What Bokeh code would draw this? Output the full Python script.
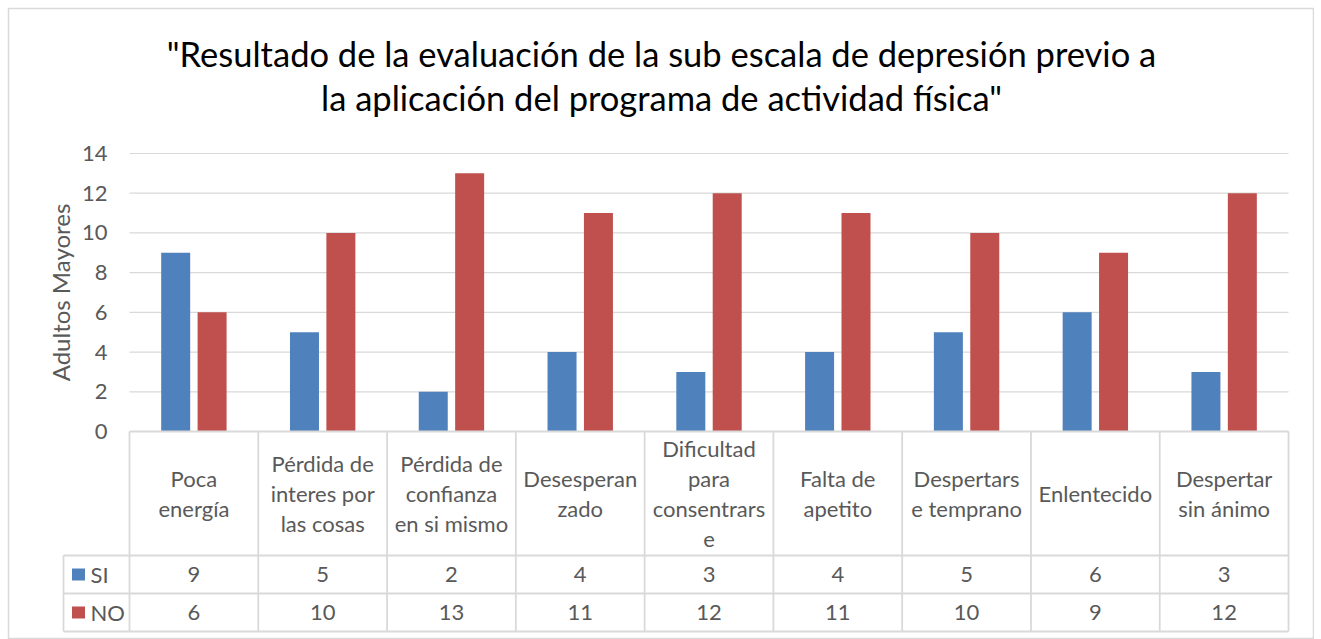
from math import pi
from bokeh.plotting import figure
from bokeh.models import Range1d
from bokeh.transform import dodge
from bokeh.core.properties import value
from bokeh.embed import file_html
from bokeh.resources import INLINE

# ---------------- data ----------------
categories = [
    "Poca\nenergía",
    "Pérdida de\ninteres por\nlas cosas",
    "Pérdida de\nconfianza\nen si mismo",
    "Desesperan\nzado",
    "Dificultad\npara\nconsentrars\ne",
    "Falta de\napetito",
    "Despertars\ne temprano",
    "Enlentecido",
    "Despertar\nsin ánimo",
]
si_values = [9, 5, 2, 4, 3, 4, 5, 6, 3]
no_values = [6, 10, 13, 11, 12, 11, 10, 9, 12]
series_names = ["SI", "NO"]
series_colors = ["#4F81BD", "#C0504D"]
y_ticks = [0, 2, 4, 6, 8, 10, 12, 14]
title_lines = ['"Resultado de la evaluación de la sub escala de depresión previo a',
               'la aplicación del programa de actividad física"']
y_label = "Adultos Mayores"

# ---------------- geometry ----------------
M = 8                  # outer white margin around the chart box
W, H = 1306, 631       # chart box (frame) size
px_x = 128.78          # pixels per category
left_px = 121          # pixel offset of category 0 from frame left
px_y = 278.0 / 14.0    # pixels per y unit
zero_px = 423          # pixel offset of y=0 from frame top
xs = -left_px / px_x
xe = xs + W / px_x
yt = zero_px / px_y
yb = -(H - zero_px) / px_y

n = len(categories)
hdr_bot = -124 / px_y
row1_bot = -162 / px_y
row2_bot = -200 / px_y
lab_left = -66 / px_x

FONT = value("Lato")
GRAY = "#595959"
LINE = "#d9d9d9"

p = figure(width=W + M, height=H + M, x_range=Range1d(xs, xe), y_range=Range1d(yb, yt),
           output_backend="svg", toolbar_location=None,
           min_border_left=M, min_border_top=M, min_border_right=0, min_border_bottom=0,
           x_axis_location=None, y_axis_location=None)
p.grid.visible = False
p.outline_line_color = LINE
p.outline_line_width = 1.5
p.background_fill_color = "white"
p.border_fill_color = "white"

# gridlines
gy = y_ticks[1:]
p.segment(x0=[0] * len(gy), x1=[n] * len(gy), y0=gy, y1=gy, line_color=LINE, line_width=1.2)

# y tick labels
p.text(x=[-22 / px_x] * len(y_ticks), y=y_ticks, text=[str(t) for t in y_ticks],
       text_align="right", text_baseline="middle", text_font=FONT,
       text_font_size="22px", text_color=GRAY)

# y axis label
p.text(x=[-69 / px_x], y=[(y_ticks[0] + y_ticks[-1]) / 2], text=[y_label], angle=pi / 2,
       text_align="center", text_baseline="middle", text_font=FONT,
       text_font_size="24px", text_color=GRAY)

# bars
xc = [i + 0.5 for i in range(n)]
src = dict(x=xc, si=si_values, no=no_values)
bw = 29 / px_x
off = 18.2 / px_x
p.vbar(x=dodge("x", -off), top="si", bottom=0, width=bw, source=src,
       fill_color=series_colors[0], line_color=None)
p.vbar(x=dodge("x", off), top="no", bottom=0, width=bw, source=src,
       fill_color=series_colors[1], line_color=None)

# table lines
hy = [0, hdr_bot, row1_bot, row2_bot]
hx0 = [0, lab_left, lab_left, lab_left]
p.segment(x0=hx0, x1=[n] * 4, y0=hy, y1=hy, line_color=LINE, line_width=1.8)
vx = list(range(n + 1))
p.segment(x0=vx, x1=vx, y0=[0] * len(vx), y1=[row2_bot] * len(vx), line_color=LINE, line_width=1.8)
p.segment(x0=[lab_left], x1=[lab_left], y0=[hdr_bot], y1=[row2_bot], line_color=LINE, line_width=1.8)

# header labels
p.text(x=xc, y=[hdr_bot / 2] * n, text=categories, text_align="center",
       text_baseline="middle", text_font=FONT, text_font_size="22px",
       text_color=GRAY, text_line_height=1.117)

# values
r1 = (hdr_bot + row1_bot) / 2
r2 = (row1_bot + row2_bot) / 2
p.text(x=xc, y=[r1] * n, text=[str(v) for v in si_values], text_align="center",
       text_baseline="middle", text_font=FONT, text_font_size="22px", text_color=GRAY)
p.text(x=xc, y=[r2] * n, text=[str(v) for v in no_values], text_align="center",
       text_baseline="middle", text_font=FONT, text_font_size="22px", text_color=GRAY)

# legend keys
kx = -51 / px_x
p.rect(x=[kx, kx], y=[r1, r2], width=13, height=12, width_units="screen",
       height_units="screen", fill_color=series_colors, line_color=None)
p.text(x=[-39 / px_x] * 2, y=[r1, r2], text=series_names, text_align="left",
       text_baseline="middle", text_font=FONT, text_font_size="22px", text_color=GRAY)

# title (two lines, placed by baseline)
tx = (xs + xe) / 2
p.text(x=[tx, tx], y=[(zero_px - 45) / px_y, (zero_px - 89) / px_y], text=title_lines,
       text_align="center", text_baseline="alphabetic", text_font=FONT,
       text_font_size="34.5px", text_color="#000000")

open("out.html", "w").write(file_html(p, INLINE))
